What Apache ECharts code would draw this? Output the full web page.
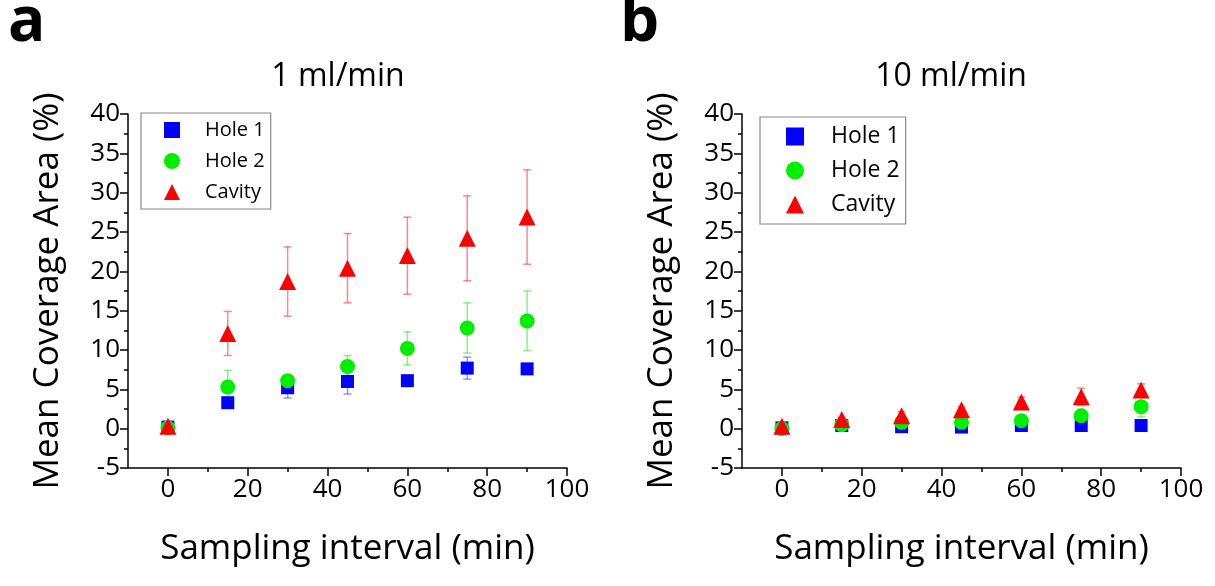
<!DOCTYPE html>
<html>
<head>
<meta charset="utf-8">
<script src="https://cdn.jsdelivr.net/npm/echarts@6/dist/echarts.min.js"></script>
<style>
html,body{margin:0;padding:0;background:#fff;}
#chart{width:1215px;height:586px;}
</style>
</head>
<body>
<div id="chart"></div>
<script>
// ---- Data ----
const sampling = [0, 15, 30, 45, 60, 75, 90];
const seriesNames = ['Hole 1', 'Hole 2', 'Cavity'];
const panelTitles = ['1 ml/min', '10 ml/min'];
const panelLetters = ['a', 'b'];
const xTickLabels = [0, 20, 40, 60, 80, 100];
const xMinorTicks = [10, 30, 50, 70, 90];

// panel a (1 ml/min)
const aHole1    = [0.2, 3.3, 5.2, 6.0, 6.1, 7.7, 7.6];
const aHole1Err = [0.1, 0.4, 1.3, 1.6, 0.3, 1.4, 0.3];
const aHole2    = [0.1, 5.3, 6.1, 7.9, 10.2, 12.8, 13.7];
const aHole2Err = [0.1, 2.1, 0.5, 1.4, 2.1, 3.2, 3.8];
const aCavity   = [0.3, 12.1, 18.7, 20.4, 22.0, 24.2, 26.9];
const aCavityErr= [0.2, 2.8, 4.4, 4.4, 4.9, 5.4, 6.0];

// panel b (10 ml/min)
const bHole1    = [0.1, 0.4, 0.25, 0.2, 0.4, 0.4, 0.4];
const bHole1Err = [0.1, 0.2, 0.2, 0.2, 0.2, 0.2, 0.1];
const bHole2    = [0.0, 0.5, 0.8, 0.8, 1.0, 1.65, 2.8];
const bHole2Err = [0.1, 0.3, 0.4, 0.4, 0.4, 0.8, 1.3];
const bCavity   = [0.3, 1.15, 1.65, 2.4, 3.4, 4.05, 4.9];
const bCavityErr= [0.1, 0.3, 0.5, 0.4, 0.6, 1.1, 0.8];

const colors = ['#0000ff', '#00ee00', '#ff0000'];
const errColors = ['rgba(60,60,255,0.55)', 'rgba(40,230,40,0.55)', 'rgba(255,40,40,0.55)'];
const symbols = ['rect', 'circle', 'triangle'];
const symbolSizes = [13, 15, 17];

const panels = [
  {vals: [aHole1, aHole2, aCavity], errs: [aHole1Err, aHole2Err, aCavityErr]},
  {vals: [bHole1, bHole2, bCavity], errs: [bHole1Err, bHole2Err, bCavityErr]}
];

const FONT = '"Open Sans", "Noto Sans", sans-serif';
const grids = [
  {left: 128, right: 648, top: 114, bottom: 118},
  {left: 742, right: 34, top: 114, bottom: 118}
];

const xAxes = [], yAxes = [], series = [];
grids.forEach((g, i) => {
  xAxes.push({
    gridIndex: i, type: 'value', min: -10, max: 100,
    axisLine: {show: true, onZero: false, lineStyle: {color: '#000', width: 1.5}},
    axisTick: {show: true, inside: false, length: 8, customValues: xTickLabels, lineStyle: {color: '#000', width: 1.5}},
    axisLabel: {show: true, customValues: xTickLabels, fontSize: 26, color: '#000', fontFamily: FONT, margin: 9},
    splitLine: {show: false},
    name: 'Sampling interval (min)', nameLocation: 'middle', nameGap: 64,
    nameTextStyle: {fontSize: 35, color: '#000', fontFamily: FONT}
  });
  // minor ticks axis
  xAxes.push({
    gridIndex: i, type: 'value', min: -10, max: 100, position: 'bottom',
    axisLine: {show: false, onZero: false},
    axisTick: {show: true, inside: false, length: 4, customValues: xMinorTicks, lineStyle: {color: '#000', width: 1.5}},
    axisLabel: {show: false, customValues: xMinorTicks},
    splitLine: {show: false}
  });
  yAxes.push({
    gridIndex: i, type: 'value', min: -5, max: 40, interval: 5,
    axisLine: {show: true, onZero: false, lineStyle: {color: '#000', width: 1.5}},
    axisTick: {show: true, inside: false, length: 8, lineStyle: {color: '#000', width: 1.5}},
    minorTick: {show: true, splitNumber: 2, length: 4, lineStyle: {color: '#000', width: 1.5}},
    axisLabel: {fontSize: 26, color: '#000', fontFamily: FONT, margin: 8},
    splitLine: {show: false},
    name: 'Mean Coverage Area (%)', nameLocation: 'middle', nameGap: 62, nameRotate: 90,
    nameTextStyle: {fontSize: 35, color: '#000', fontFamily: FONT}
  });
});

panels.forEach((p, pi) => {
  seriesNames.forEach((name, si) => {
    const vals = p.vals[si], errs = p.errs[si];
    series.push({
      type: 'custom',
      xAxisIndex: pi * 2, yAxisIndex: pi,
      silent: true,
      data: sampling.map((x, k) => [x, vals[k] - errs[k], vals[k] + errs[k]]),
      renderItem: function (params, api) {
        const lo = api.coord([api.value(0), api.value(1)]);
        const hi = api.coord([api.value(0), api.value(2)]);
        const w = 4;
        const st = {stroke: errColors[si], lineWidth: 1.5, fill: null};
        return {
          type: 'group',
          children: [
            {type: 'line', shape: {x1: lo[0], y1: lo[1], x2: hi[0], y2: hi[1]}, style: st},
            {type: 'line', shape: {x1: lo[0] - w, y1: lo[1], x2: lo[0] + w, y2: lo[1]}, style: st},
            {type: 'line', shape: {x1: hi[0] - w, y1: hi[1], x2: hi[0] + w, y2: hi[1]}, style: st}
          ]
        };
      }
    });
    series.push({
      type: 'scatter', name: name,
      xAxisIndex: pi * 2, yAxisIndex: pi,
      symbol: symbols[si], symbolSize: symbolSizes[si],
      itemStyle: {color: colors[si], opacity: 1},
      data: sampling.map((x, k) => [x, vals[k]])
    });
  });
});

const legendBase = {
  orient: 'vertical', data: seriesNames.map((n, i) => ({name: n, icon: symbols[i]})),
  borderColor: '#888', borderWidth: 1.2, backgroundColor: '#fff',
  selectedMode: false
};
const legends = [
  Object.assign({}, legendBase, {left: 141, top: 113, padding: [7, 6, 7, 23], itemGap: 11, itemWidth: 16, itemHeight: 16,
    textStyle: {color: '#000', fontFamily: FONT, fontSize: 20, padding: [0, 0, 0, 20]}}),
  Object.assign({}, legendBase, {left: 760, top: 117, padding: [8, 6, 8, 26], itemGap: 11, itemWidth: 18, itemHeight: 18,
    textStyle: {color: '#000', fontFamily: FONT, fontSize: 23, padding: [0, 0, 0, 22]}})
];

const graphics = [
  {type: 'text', left: 8, top: -8, style: {text: panelLetters[0], font: 'bold 62px ' + FONT, fill: '#000'}},
  {type: 'text', left: 620, top: -8, style: {text: panelLetters[1], font: 'bold 62px ' + FONT, fill: '#000'}},
  {type: 'text', x: 338, y: 77, style: {text: panelTitles[0], font: '32px ' + FONT, fill: '#000', textAlign: 'center', textVerticalAlign: 'middle'}},
  {type: 'text', x: 951, y: 77, style: {text: panelTitles[1], font: '32px ' + FONT, fill: '#000', textAlign: 'center', textVerticalAlign: 'middle'}}
];

const chart = echarts.init(document.getElementById('chart'), null, {renderer: 'canvas'});
chart.setOption({
  backgroundColor: '#fff',
  animation: false,
  grid: grids,
  xAxis: xAxes,
  yAxis: yAxes,
  legend: legends,
  graphic: graphics,
  series: series
});
</script>
</body>
</html>
